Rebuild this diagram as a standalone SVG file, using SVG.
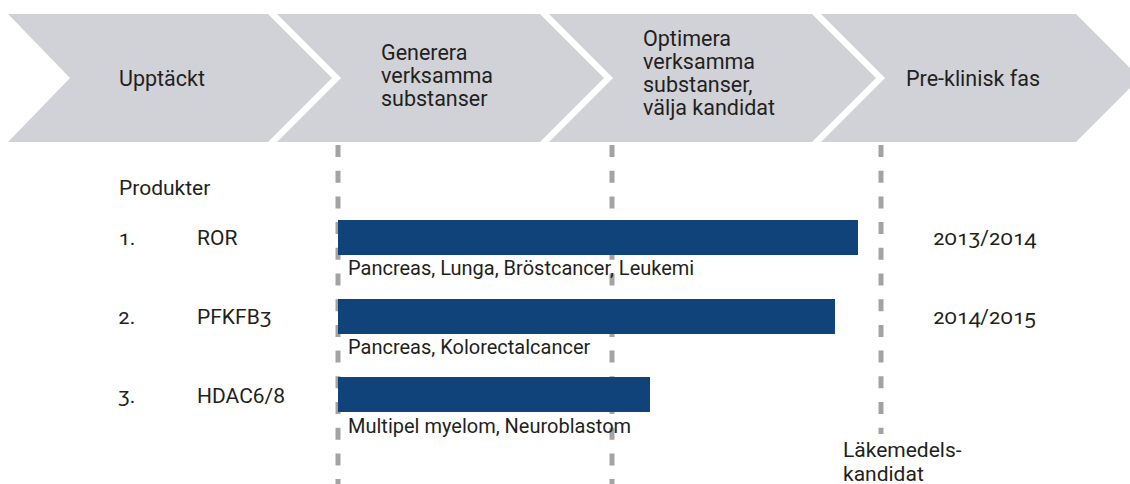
<svg xmlns="http://www.w3.org/2000/svg" width="1130" height="484" viewBox="0 0 1130 484">
<style>
.chev{fill:#d1d2d7}
.t{font-family:Roboto,"Liberation Sans",sans-serif;fill:#231f20;font-variant-numeric:oldstyle-nums}
.h{font-size:21.5px}
.l{font-size:21px}
.b{font-size:20px}
.bar{fill:#0f4379}
.dash{stroke:#a3a3a6;stroke-width:5;stroke-dasharray:12 13.7;fill:none}
</style>
<rect width="1130" height="484" fill="#ffffff"/>
<g id="phase-upptackt">
<polygon class="chev" points="8,14 268,14 332,78 268,142 8,142 70,78"/>
<text class="t h" x="119" y="86">Upptäckt</text>
</g>
<g id="phase-generera">
<polygon class="chev" points="277,14 540,14 604,78 540,142 277,142 341,78"/>
<text class="t h" x="381" y="60">Generera</text>
<text class="t h" x="381" y="83">verksamma</text>
<text class="t h" x="381" y="106">substanser</text>
</g>
<g id="phase-optimera">
<polygon class="chev" points="549,14 812,14 876,78 812,142 549,142 613,78"/>
<text class="t h" x="643" y="46">Optimera</text>
<text class="t h" x="643" y="69">verksamma</text>
<text class="t h" x="643" y="92">substanser,</text>
<text class="t h" x="643" y="115">välja kandidat</text>
</g>
<g id="phase-preklinisk">
<polygon class="chev" points="821,14 1076,14 1140,78 1076,142 821,142 885,78"/>
<text class="t h" x="906" y="86">Pre-klinisk fas</text>
</g>
<g id="connectors">
<line class="dash" x1="338" y1="145" x2="338" y2="484"/>
<line class="dash" x1="612" y1="145" x2="612" y2="484"/>
<line class="dash" x1="881" y1="145" x2="881" y2="434"/>
</g>
<g id="header">
<text class="t l" x="119" y="195">Produkter</text>
</g>
<g id="product-ror">
<text class="t l" x="118" y="245">1.</text>
<text class="t l" x="197" y="245">ROR</text>
<rect class="bar" x="338" y="220" width="520" height="35"/>
<text class="t b" x="348" y="275">Pancreas, Lunga, Bröstcancer, Leukemi</text>
<text class="t l" x="933" y="245">2013/2014</text>
</g>
<g id="product-pfkfb3">
<text class="t l" x="118" y="324">2.</text>
<text class="t l" x="197" y="324">PFKFB3</text>
<rect class="bar" x="338" y="299" width="497" height="35"/>
<text class="t b" x="348" y="354">Pancreas, Kolorectalcancer</text>
<text class="t l" x="933" y="324">2014/2015</text>
</g>
<g id="product-hdac">
<text class="t l" x="118" y="403">3.</text>
<text class="t l" x="197" y="403">HDAC6/8</text>
<rect class="bar" x="338" y="377" width="312" height="35"/>
<text class="t b" x="348" y="433">Multipel myelom, Neuroblastom</text>
</g>
<g id="milestone">
<text class="t l" x="843" y="457">Läkemedels-</text>
<text class="t l" x="843" y="481">kandidat</text>
</g>
</svg>
